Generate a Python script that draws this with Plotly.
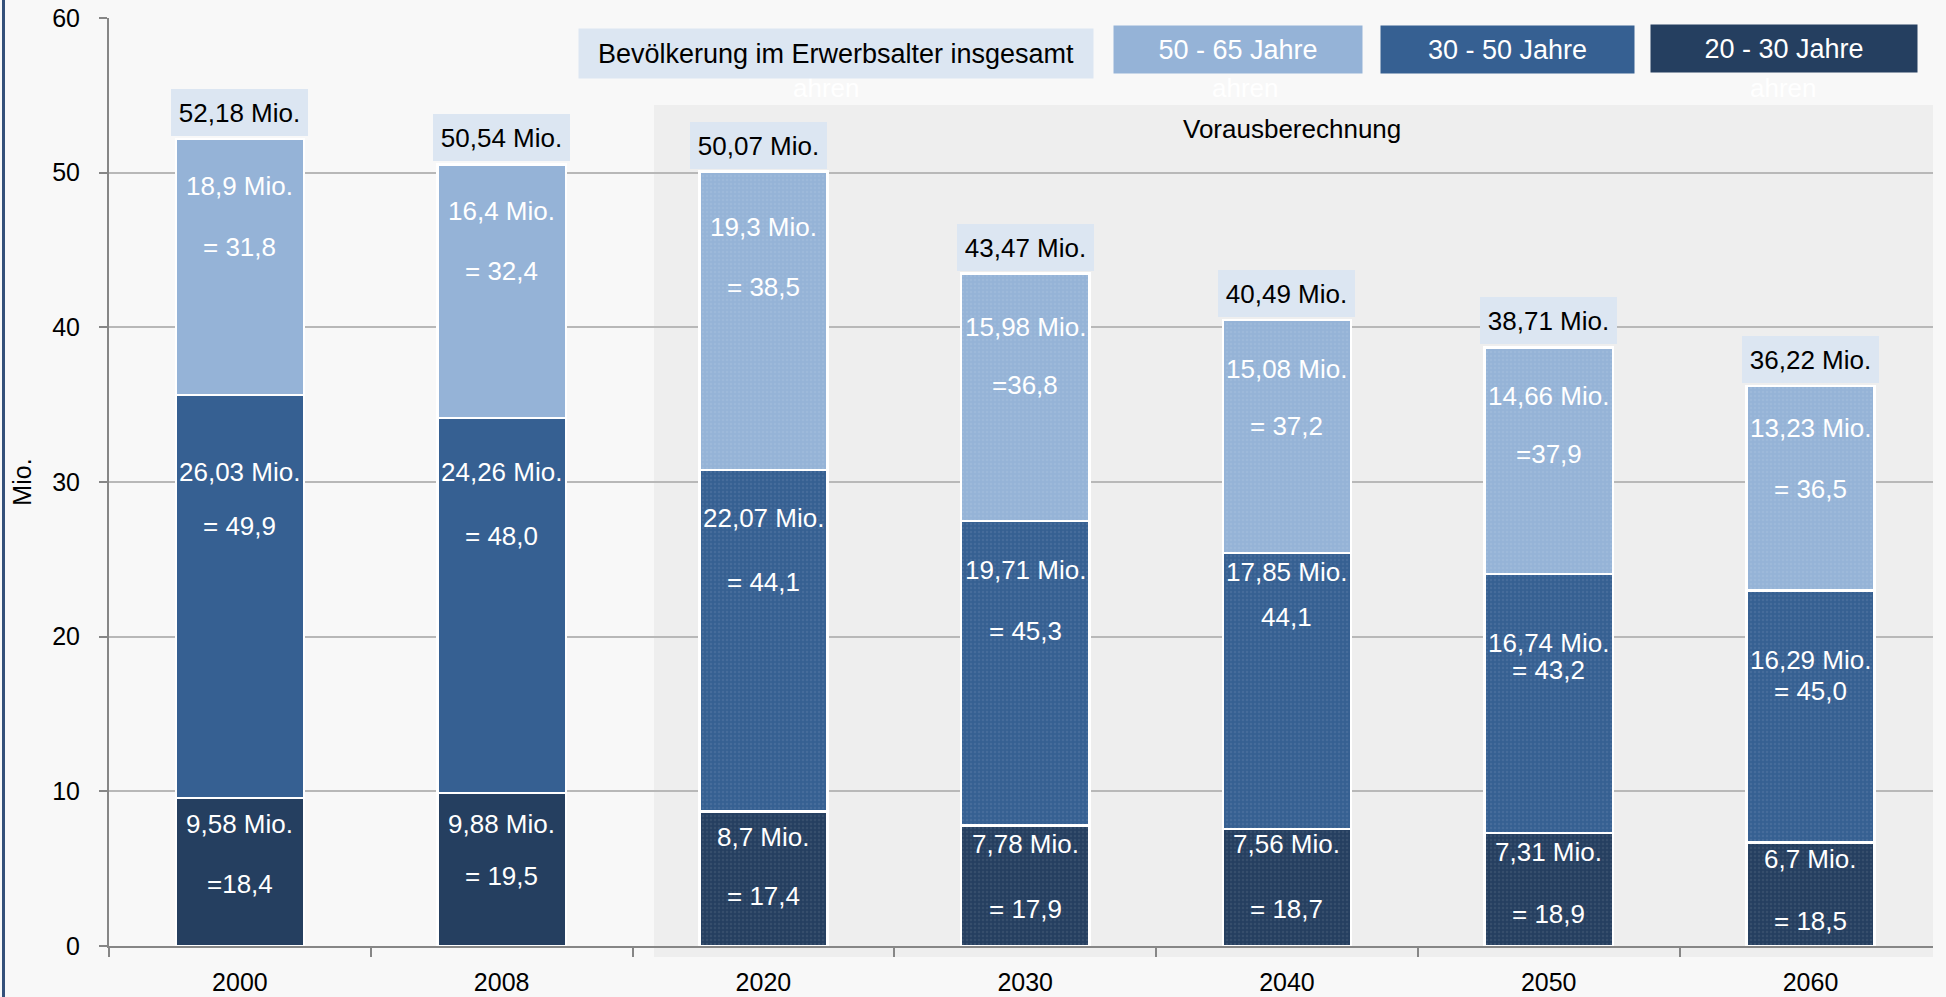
import plotly.graph_objects as go

# ---------------- data ----------------
years = ["2000", "2008", "2020", "2030", "2040", "2050", "2060"]

# segment heights as drawn (Mio.)
age_20_30 = [9.58, 9.88, 8.7, 7.78, 7.56, 7.31, 6.7]
age_30_50 = [26.03, 24.26, 22.07, 19.71, 17.85, 16.74, 16.29]
age_50_65 = [16.57, 16.4, 19.3, 15.98, 15.08, 14.66, 13.23]
totals = [52.18, 50.54, 50.07, 43.47, 40.49, 38.71, 36.22]

# label texts as printed in the chart
txt_20_30 = ["9,58 Mio.", "9,88 Mio.", "8,7 Mio.", "7,78 Mio.", "7,56 Mio.", "7,31 Mio.", "6,7 Mio."]
pct_20_30 = ["=18,4", "= 19,5", "= 17,4", "= 17,9", "= 18,7", "= 18,9", "= 18,5"]
txt_30_50 = ["26,03 Mio.", "24,26 Mio.", "22,07 Mio.", "19,71 Mio.", "17,85 Mio.", "16,74 Mio.", "16,29 Mio."]
pct_30_50 = ["= 49,9", "= 48,0", "= 44,1", "= 45,3", "44,1", "= 43,2", "= 45,0"]
txt_50_65 = ["18,9 Mio.", "16,4 Mio.", "19,3 Mio.", "15,98 Mio.", "15,08 Mio.", "14,66 Mio.", "13,23 Mio."]
pct_50_65 = ["= 31,8", "= 32,4", "= 38,5", "=36,8", "= 37,2", "=37,9", "= 36,5"]
total_txt = ["52,18 Mio.", "50,54 Mio.", "50,07 Mio.", "43,47 Mio.", "40,49 Mio.", "38,71 Mio.", "36,22 Mio."]

series_names = ["20 - 30 Jahre", "30 - 50 Jahre", "50 - 65 Jahre"]
legend_total = "Bevölkerung im Erwerbsalter insgesamt"
forecast_label = "Vorausberechnung"
y_title = "Mio."

# ---------------- label placement (layout, in axis units) ----------------
pos_20_30 = [(7.87, 4.02), (7.87, 4.50), (7.07, 3.22), (6.59, 2.42), (6.59, 2.42), (6.11, 2.10), (5.63, 1.62)]
pos_30_50 = [(30.66, 27.13), (30.66, 26.49), (27.69, 23.52), (24.32, 20.39), (24.16, 21.27), (19.59, 17.82), (18.46, 16.46)]
pos_50_65 = [(49.11, 45.18), (47.50, 43.65), (46.46, 42.61), (40.04, 36.27), (37.32, 33.62), (35.55, 31.78), (33.46, 29.53)]

# ---------------- styles ----------------
C_DARK = "#253F60"
C_MID = "#366092"
C_LIGHT = "#95B3D7"
C_TOTAL = "#DCE6F2"
FONT = "Liberation Sans, Arial, sans-serif"
AXIS_GREY = "#868686"

W, H = 1946, 997
ML, MR, MT, MB = 109, 13, 18, 51
PW, PH = W - ML - MR, H - MT - MB


def px_x(px):
    return (px - ML) / PW


def px_y(py):
    return (H - MB - py) / PH


pattern_shapes = ["", ""] + ["."] * 5

fig = go.Figure()
for name, vals, col in zip(series_names, [age_20_30, age_30_50, age_50_65], [C_DARK, C_MID, C_LIGHT]):
    fig.add_trace(go.Bar(
        x=years, y=vals, name=name, width=0.49,
        marker=dict(color=col, line=dict(color="white", width=2.5),
                    pattern=dict(shape=pattern_shapes, fgcolor="#ffffff", fgopacity=0.08,
                                 size=4, solidity=0.3)),
        hovertemplate="%{x}: %{y} Mio.<extra>" + name + "</extra>",
    ))

ann = []
# segment labels (x given as category index)
for texts, pcts, poss in [(txt_20_30, pct_20_30, pos_20_30),
                          (txt_30_50, pct_30_50, pos_30_50),
                          (txt_50_65, pct_50_65, pos_50_65)]:
    for i, (t, p, (y1, y2)) in enumerate(zip(texts, pcts, poss)):
        ann.append(dict(x=i, y=y1, text=t, showarrow=False, xref="x", yref="y",
                        xanchor="center", yanchor="middle",
                        font=dict(size=26, color="white", family=FONT)))
        ann.append(dict(x=i, y=y2, text=p, showarrow=False, xref="x", yref="y",
                        xanchor="center", yanchor="middle",
                        font=dict(size=26, color="white", family=FONT)))

# total boxes
for i, (yr, tot, t) in enumerate(zip(years, totals, total_txt)):
    ann.append(dict(x=i, y=tot, text=t, showarrow=False, xref="x", yref="y",
                    xanchor="center", yanchor="bottom", yshift=3,
                    xshift=(-5 if yr == "2020" else 0),
                    width=137, height=47, bgcolor=C_TOTAL, borderpad=0, borderwidth=0,
                    font=dict(size=26, color="black", family=FONT)))

# ghost "ahren" texts (white, peeking out below the legend boxes)
for gx in [826, 1245, 1783]:
    ann.append(dict(x=px_x(gx), y=px_y(88), xref="paper", yref="paper", text="ahren",
                    xanchor="center", yanchor="middle",
                    showarrow=False, font=dict(size=26, color="white", family=FONT)))

# legend boxes
legend_boxes = [
    (legend_total, 836, 53.5, 514, 49, C_TOTAL, "black"),
    (series_names[2], 1238, 49.5, 248, 47, C_LIGHT, "white"),
    (series_names[1], 1507.5, 49.5, 253, 47, C_MID, "white"),
    (series_names[0], 1784, 48.5, 266, 47, C_DARK, "white"),
]
for t, cx, cy, bw, bh, bg, fc in legend_boxes:
    ann.append(dict(x=px_x(cx), y=px_y(cy), xref="paper", yref="paper", text=t,
                    showarrow=False, width=bw, height=bh, bgcolor=bg, borderpad=0,
                    xanchor="center", yanchor="middle",
                    font=dict(size=27, color=fc, family=FONT)))

ann.append(dict(x=px_x(1292), y=px_y(129), xref="paper", yref="paper", text=forecast_label,
                xanchor="center", yanchor="middle",
                showarrow=False, font=dict(size=26, color="black", family=FONT)))

shapes = [
    # forecast shading
    dict(type="rect", xref="paper", yref="paper", x0=px_x(654), x1=px_x(1933),
         y0=px_y(957), y1=px_y(105), fillcolor="#eeeeee", line=dict(width=0), layer="below"),
    # left frame line
    dict(type="line", xref="paper", yref="paper", x0=px_x(3.5), x1=px_x(3.5),
         y0=px_y(H), y1=px_y(0), line=dict(color="#34507A", width=3)),
]

fig.update_layout(
    width=W, height=H,
    margin=dict(l=ML, r=MR, t=MT, b=MB, pad=0, autoexpand=False),
    barmode="stack", showlegend=False,
    paper_bgcolor="#f8f8f8", plot_bgcolor="rgba(0,0,0,0)",
    font=dict(family=FONT, color="black"),
    annotations=ann, shapes=shapes,
    xaxis=dict(type="category", range=[-0.5, 6.468], tickson="boundaries", automargin=False,
               ticks="outside", ticklen=9, tickwidth=2, tickcolor=AXIS_GREY,
               showline=True, linecolor=AXIS_GREY, linewidth=2, showgrid=False,
               tickfont=dict(size=25, color="black", family=FONT), ticklabelstandoff=13),
    yaxis=dict(range=[0, 60], dtick=10, showgrid=True, gridcolor="#b8b8b8", gridwidth=1.5,
               automargin=False,
               showline=True, linecolor=AXIS_GREY, linewidth=2, zeroline=False,
               ticks="outside", ticklen=8, tickwidth=2, tickcolor=AXIS_GREY,
               tickfont=dict(size=25, color="black", family=FONT), ticklabelstandoff=14,
               title=dict(text=y_title, font=dict(size=25, color="black", family=FONT), standoff=13)),
)

fig.write_html(
    "out.html",
    config={"displayModeBar": False},
    post_script="document.body.style.margin='0';document.body.style.overflow='hidden';",
)
